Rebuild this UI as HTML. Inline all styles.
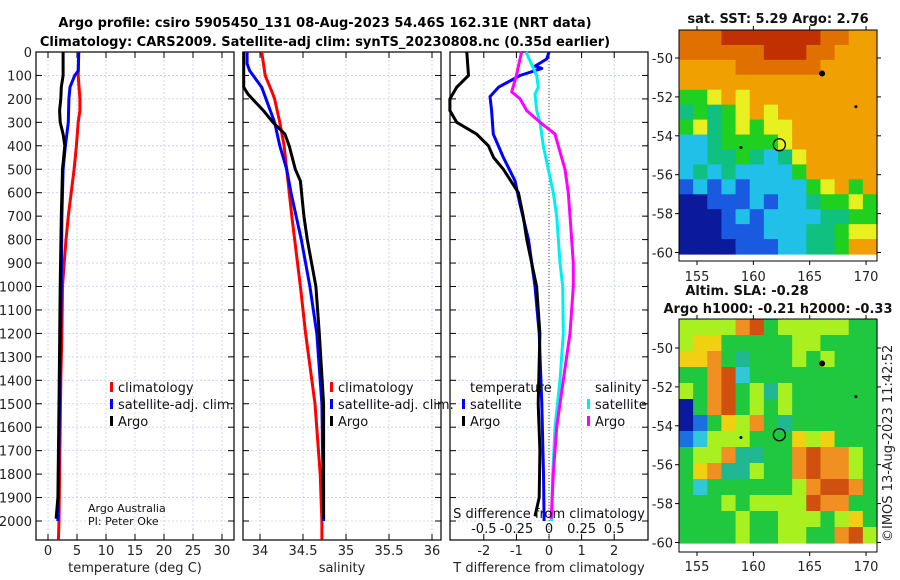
<!DOCTYPE html>
<html><head><meta charset="utf-8"><style>
body{margin:0;background:#fff}
svg{display:block;font-family:"DejaVu Sans","Liberation Sans",sans-serif}
</style></head><body>
<svg id="fig" width="900" height="580" viewBox="0 0 900 580">
<rect width="900" height="580" fill="#fff"/>
<text x="325" y="27" font-size="13" font-weight="bold" text-anchor="middle">Argo profile: csiro 5905450_131 08-Aug-2023 54.46S 162.31E (NRT data)</text>
<text x="325" y="46" font-size="13" font-weight="bold" text-anchor="middle">Climatology: CARS2009. Satellite-adj clim: synTS_20230808.nc (0.35d earlier)</text>
<g id="plots"></g>
</svg>
<script>
// ---------- data ----------
const depthTicks=[0,100,200,300,400,500,600,700,800,900,1000,1100,1200,1300,1400,1500,1600,1700,1800,1900,2000];
const tTicks=[0,5,10,15,20,25,30];
const sTicks=[34,34.5,35,35.5,36];
const dTTicks=[-2,-1,0,1,2];
const dSTicks=[-0.5,-0.25,0,0.25,0.5];
const tClimD=[0,100,200,250,300,400,500,600,700,800,900,1000,1200,1400,1600,1800,2000,2080];
const tClim=[5.3,5.2,5.5,5.5,5.2,4.9,4.5,4.0,3.5,3.1,2.8,2.5,2.4,2.2,2.1,2.0,1.9,1.8];
const tSatD=[0,80,100,150,200,300,400,500,700,1000,1500,2000];
const tSat=[5.3,5.2,4.6,3.8,3.6,3.5,3.0,2.6,2.4,2.3,2.0,1.7];
const tArgoD=[0,100,150,200,250,300,350,400,500,700,1000,1500,1900,1990];
const tArgo=[2.6,2.6,2.3,2.2,2.0,2.1,2.6,2.9,2.5,2.3,2.1,1.9,1.7,1.4];
const sClimD=[0,100,170,200,300,400,500,700,1000,1200,1500,1800,2000,2080];
const sClim=[34.02,34.06,34.14,34.17,34.23,34.28,34.31,34.37,34.47,34.53,34.64,34.70,34.72,34.72];
const sSatD=[0,50,80,150,250,300,400,500,600,800,1000,1200,1500,2000];
const sSat=[33.85,33.85,33.88,34.02,34.12,34.17,34.23,34.31,34.36,34.48,34.58,34.66,34.72,34.74];
const sArgoD=[0,150,180,250,300,350,400,500,550,700,800,900,1000,1200,1500,1990];
const sArgo=[33.81,33.81,33.86,34.04,34.15,34.29,34.34,34.41,34.47,34.51,34.55,34.60,34.65,34.69,34.74,34.74];
const dtSatD=[0,30,60,70,100,150,190,250,350,450,550,650,800,1000,1200,1500,1800,2000];
const dtSat=[0.0,-0.07,-0.43,-0.22,-0.89,-1.55,-1.81,-1.76,-1.71,-1.40,-1.04,-0.89,-0.63,-0.43,-0.30,-0.22,-0.17,-0.15];
const dtArgoD=[0,100,150,200,250,300,350,400,450,500,600,700,800,1000,1200,1500,1700,1900,1980];
const dtArgo=[-2.52,-2.47,-2.83,-3.04,-3.04,-2.83,-2.22,-1.86,-1.70,-1.40,-0.94,-0.79,-0.68,-0.38,-0.28,-0.33,-0.28,-0.30,-0.43];
const dsSatD=[0,100,150,180,250,300,400,500,600,700,900,1000,1200,1400,1600,1800,2000];
const dsSat=[-0.176,-0.094,-0.082,-0.107,-0.094,-0.069,-0.044,-0.005,0.033,0.059,0.084,0.105,0.11,0.084,0.046,0.028,0.02];
const dsArgoD=[0,100,170,200,250,300,350,400,500,600,700,900,1000,1200,1400,1600,1800,1990];
const dsArgo=[-0.21,-0.25,-0.286,-0.222,-0.171,-0.069,0.046,0.071,0.123,0.148,0.161,0.186,0.186,0.161,0.11,0.059,0.033,0.017];
const latTicks=[-50,-52,-54,-56,-58,-60];
const lonTicks=[155,160,165,170];
const argoLon=162.31, argoLat=-54.46;
const sstGrid=["88899999998877","88888899988777","77778888887777","77777777777777","55676777777777","45456767777777","56456566777777","33455556777777","33445434677777","34343333577777","23232333356757","11222323345565","11123233334455","11122233344566","11112223344577"];
const slaGrid=["55557845555544","56644444554444","66743444545444","44782444444444","54784535444444","04784545444444","01465743444444","12555444656444","45573344787754","46733544787754","42444444578874","44454555587744","44445445554564","44445445544785"];
const sstColors=["#000080","#0a1a9a","#1a5ae0","#20c0e8","#10c080","#20d020","#e8f020","#f0a000","#e07000","#c03000"];
const slaColors=["#0a1aa0","#1a70e0","#30c8d8","#20b890","#20c840","#a8f020","#f0d010","#f09020","#d05010","#a02010"];

// ---------- helpers ----------
const NS="http://www.w3.org/2000/svg";
const root=document.getElementById('plots');
function mk(tag,attrs,parent){const e=document.createElementNS(NS,tag);for(const k in attrs)e.setAttribute(k,attrs[k]);(parent||root).appendChild(e);return e;}
const Y0=52,YK=0.2345,YB=540;
const yD=d=>Y0+d*YK;

function panel(x0,x1,sx,xt,xlabels,xtitle,name){
  const g=mk('g',{});
  
  
  depthTicks.forEach(d=>{mk('line',{x1:x0,x2:x1,y1:yD(d),y2:yD(d),stroke:'#c8cde6','stroke-width':0.8,'stroke-dasharray':'2,2'},g);
    mk('line',{x1:x0,x2:x0+6,y1:yD(d),y2:yD(d),stroke:'#000'},g);mk('line',{x1:x1-6,x2:x1,y1:yD(d),y2:yD(d),stroke:'#000'},g);});
  xt.forEach(v=>{const x=sx(v);mk('line',{x1:x,x2:x,y1:Y0,y2:YB,stroke:'#c8cde6','stroke-width':0.8,'stroke-dasharray':'2,2'},g);
    mk('line',{x1:x,x2:x,y1:YB-6,y2:YB,stroke:'#000'},g);mk('line',{x1:x,x2:x,y1:Y0,y2:Y0+6,stroke:'#000'},g);});
  mk('rect',{x:x0,y:Y0,width:x1-x0,height:YB-Y0,fill:'none',stroke:'#000','stroke-width':1.2},g);
  if(xlabels){xt.forEach(v=>{const t=mk('text',{x:sx(v),y:YB+15,'font-size':13,'text-anchor':'middle',fill:'#222'},g);t.textContent=String(v);
    
    });}
  const t=mk('text',{x:(x0+x1)/2,y:YB+32,'font-size':13,'text-anchor':'middle',fill:'#222'},g);t.textContent=xtitle;
  
  
  return g;
}
function series(D,V,sx,color,name,w){
  const p=mk('polyline',{points:D.map((d,i)=>sx(V[i]).toFixed(1)+','+yD(d).toFixed(1)).join(' '),fill:'none',stroke:color,'stroke-width':w||3,'stroke-linejoin':'round'});
  
  
}
function txt(x,y,s,size,anchor,name,extra){const t=mk('text',Object.assign({x:x,y:y,'font-size':size,'text-anchor':anchor||'start',fill:'#111'},extra||{}));t.textContent=s;
  
  return t;}
function legend(x,y,items){items.forEach((it,i)=>{const yy=y+i*17;
  const m=mk('rect',{x:x,y:yy-10,width:3,height:10,fill:it[0]});
  
  
  txt(x+8,yy,it[1],13,'start','legend-entry');});}

// ---------- panel 1: temperature ----------
const sxT=v=>48+5.8*v;
panel(36,234,sxT,tTicks,true,'temperature (deg C)','temperature-panel');
depthTicks.forEach(d=>txt(32,yD(d)+5,String(d),13,'end','y-tick-label',{fill:'#222'}));
series(tClimD,tClim,sxT,'#ff0000','temp-climatology-line');
series(tSatD,tSat,sxT,'#0000ff','temp-satellite-line');
series(tArgoD,tArgo,sxT,'#000000','temp-argo-line');
legend(110,392,[['#f00','climatology'],['#00f','satellite-adj. clim.'],['#000','Argo']]);
txt(88,512,'Argo Australia',11,'start','credit-argo-australia');
txt(88,525,'PI: Peter Oke',11,'start','credit-pi');

// ---------- panel 2: salinity ----------
const sxS=v=>260+86*(v-34);
panel(243,441,sxS,sTicks,true,'salinity','salinity-panel');
series(sClimD,sClim,sxS,'#ff0000','sal-climatology-line');
series(sSatD,sSat,sxS,'#0000ff','sal-satellite-line');
series(sArgoD,sArgo,sxS,'#000000','sal-argo-line');
legend(330,392,[['#f00','climatology'],['#00f','satellite-adj. clim.'],['#000','Argo']]);

// ---------- panel 3: differences ----------
const sxDT=v=>549+32.6*v;
const sxDS=v=>549+130.4*v;
panel(450,648,sxDT,dTTicks,true,'T difference from climatology','difference-panel');
const zl=mk('line',{x1:549,x2:549,y1:Y0,y2:YB,stroke:'#444','stroke-width':1,'stroke-dasharray':'1,2'});


series(dtSatD,dtSat,sxDT,'#0000ff','dT-satellite-line');
series(dtArgoD,dtArgo,sxDT,'#000000','dT-argo-line');
series(dsSatD,dsSat,sxDS,'#00f0f0','dS-satellite-line');
series(dsArgoD,dsArgo,sxDS,'#ff00ff','dS-argo-line');
txt(549,518,'S difference from climatology',13,'middle','s-axis-title');
dSTicks.forEach(v=>txt(sxDS(v),533,String(v),13,'middle','s-tick-label'));
txt(470,392,'temperature',13,'start','legend-title-temperature');
txt(595,392,'salinity',13,'start','legend-title-salinity');
legend(462,409,[['#00f','satellite'],['#000','Argo']]);
legend(587,409,[['#0ee','satellite'],['#f0f','Argo']]);

// ---------- maps ----------
function map(top,bot,colBot,grid,colors,name,lonLabY){
  const X0=679,X1=877;
  const lonX=l=>697+(l-155)*11.27;
  const latY=la=>(top===30?58:348)+(-50-la)*19.45;
  const g=mk('g',{});
  
  
  const rows=grid.length,cols=grid[0].length;
  const ch=(colBot-top)/rows,cw=(X1-X0)/cols;
  grid.forEach((row,r)=>{for(let c=0;c<cols;c++){
    const cell=mk('rect',{x:X0+c*cw,y:top+r*ch,width:cw+0.6,height:ch+0.6,fill:colors[+row[c]]},g);
    
    }});
  mk('rect',{x:X0,y:top,width:X1-X0,height:bot-top,fill:'none',stroke:'#000','stroke-width':1},g);
  latTicks.forEach(la=>{const y=latY(la);mk('line',{x1:X0-4,x2:X0,y1:y,y2:y,stroke:'#000'},g);mk('line',{x1:X1,x2:X1+4,y1:y,y2:y,stroke:'#000'},g);
    txt(X0-6,y+5,String(la),13,'end','lat-tick-label',{fill:'#222'});});
  lonTicks.forEach(l=>{const x=lonX(l);mk('line',{x1:x,x2:x,y1:bot,y2:bot+4,stroke:'#000'},g);mk('line',{x1:x,x2:x,y1:top-4,y2:top,stroke:'#000'},g);
    txt(x,lonLabY,String(l),13,'middle','lon-tick-label',{fill:'#222'});});
  const c=mk('circle',{cx:lonX(argoLon),cy:latY(argoLat),r:6,fill:'none',stroke:'#000','stroke-width':1.3},g);
  
  
  [[166.1,-50.8,3],[169.1,-52.5,1.5],[158.9,-54.6,1.5]].forEach(p=>{const d=mk('circle',{cx:lonX(p[0]),cy:latY(p[1]),r:p[2],fill:'#000'},g);
    
    });
}
map(30,261,254,sstGrid,sstColors,'sst-map',281);
txt(778,23,'sat. SST: 5.29 Argo: 2.76',13,'middle','sst-map-title',{'font-weight':'bold'});
map(319,552,543,slaGrid,slaColors,'sla-map',571);
txt(747,295,'Altim. SLA: -0.28',13,'middle','sla-map-title',{'font-weight':'bold'});
txt(778,313,'Argo h1000: -0.21 h2000: -0.33',13,'middle','sla-map-subtitle',{'font-weight':'bold'});
txt(0,0,'©IMOS 13-Aug-2023 11:42:52',13,'start','timestamp',{transform:'translate(892,542) rotate(-90)',fill:'#222'});
</script>
</body></html>
